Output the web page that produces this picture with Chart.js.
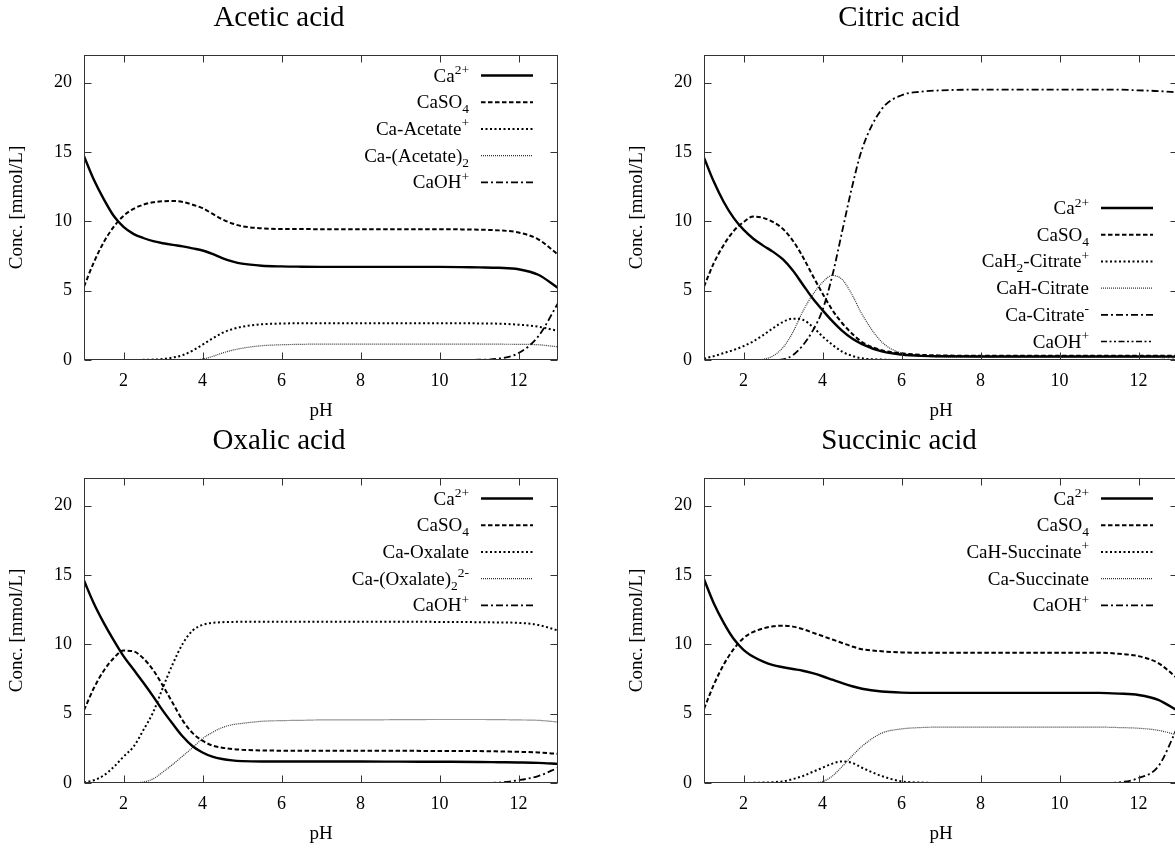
<!DOCTYPE html>
<html>
<head>
<meta charset="utf-8">
<script src="https://cdn.jsdelivr.net/npm/chart.js@4.4.0/dist/chart.umd.min.js"></script>
<style>
  html, body { margin: 0; padding: 0; background: #fff; overflow: hidden; }
  #wrap { position: relative; width: 1175px; height: 849px; overflow: hidden; }
  .panel { position: absolute; width: 592px; height: 423px; }
</style>
</head>
<body>
<div id="wrap">
  <div class="panel" style="left:0;top:0"><canvas id="acetic" width="592" height="423"></canvas></div>
  <div class="panel" style="left:620px;top:0"><canvas id="citric" width="592" height="423"></canvas></div>
  <div class="panel" style="left:0;top:423px"><canvas id="oxalic" width="592" height="423"></canvas></div>
  <div class="panel" style="left:620px;top:423px"><canvas id="succinic" width="592" height="423"></canvas></div>
</div>
<script>
// pH grid shared by all four panels
const ph = [1, 1.25, 1.5, 1.75, 2, 2.25, 2.5, 2.75, 3, 3.25, 3.5, 3.75, 4, 4.25, 4.5, 4.75, 5, 5.5, 6, 6.5, 7, 8, 9, 10, 11, 11.5, 12, 12.5, 13];
const xTicks = [2, 4, 6, 8, 10, 12];
const yTicks = [0, 5, 10, 15, 20];

// Acetic acid
const aceticLabels = ['Ca^{2+}', 'CaSO_{4}', 'Ca-Acetate^{+}', 'Ca-(Acetate)_{2}', 'CaOH^{+}'];
const aceticCa = [14.7, 13.0, 11.6, 10.4, 9.6, 9.1, 8.8, 8.57, 8.42, 8.3, 8.2, 8.05, 7.9, 7.65, 7.35, 7.12, 6.95, 6.8, 6.75, 6.73, 6.72, 6.72, 6.72, 6.72, 6.68, 6.65, 6.55, 6.15, 5.2];
const aceticCaSO4 = [5.3, 7.05, 8.5, 9.6, 10.4, 10.9, 11.2, 11.38, 11.45, 11.47, 11.4, 11.2, 10.95, 10.55, 10.15, 9.85, 9.65, 9.5, 9.45, 9.45, 9.43, 9.43, 9.43, 9.43, 9.4, 9.35, 9.2, 8.7, 7.6];
const aceticAcetate = [0, 0, 0, 0, 0, 0, 0.01, 0.03, 0.07, 0.18, 0.35, 0.68, 1.1, 1.55, 1.95, 2.22, 2.4, 2.58, 2.63, 2.65, 2.65, 2.65, 2.65, 2.65, 2.64, 2.62, 2.55, 2.4, 2.1];
const aceticAcetate2 = [0, 0, 0, 0, 0, 0, 0, 0, 0, 0, 0, 0.02, 0.07, 0.25, 0.5, 0.7, 0.85, 1.03, 1.1, 1.13, 1.15, 1.15, 1.15, 1.15, 1.15, 1.14, 1.13, 1.1, 0.95];
const aceticCaOH = [0, 0, 0, 0, 0, 0, 0, 0, 0, 0, 0, 0, 0, 0, 0, 0, 0, 0, 0, 0, 0, 0, 0, 0, 0.02, 0.1, 0.5, 1.7, 4.1];

// Citric acid
const citricLabels = ['Ca^{2+}', 'CaSO_{4}', 'CaH_{2}-Citrate^{+}', 'CaH-Citrate', 'Ca-Citrate^{-}', 'CaOH^{+}'];
const citricCa = [14.6, 12.85, 11.4, 10.25, 9.4, 8.75, 8.25, 7.8, 7.25, 6.45, 5.45, 4.45, 3.6, 2.8, 2.1, 1.55, 1.15, 0.62, 0.4, 0.3, 0.27, 0.25, 0.25, 0.25, 0.25, 0.25, 0.25, 0.25, 0.24];
const citricCaSO4 = [5.3, 7.0, 8.3, 9.3, 9.95, 10.35, 10.25, 9.95, 9.45, 8.6, 7.45, 6.1, 4.8, 3.6, 2.65, 1.9, 1.3, 0.7, 0.48, 0.37, 0.33, 0.3, 0.3, 0.3, 0.3, 0.3, 0.3, 0.3, 0.3];
const citricCaH2 = [0.1, 0.28, 0.5, 0.72, 1.0, 1.35, 1.8, 2.3, 2.75, 2.98, 2.9, 2.4, 1.7, 1.1, 0.6, 0.3, 0.12, 0.03, 0, 0, 0, 0, 0, 0, 0, 0, 0, 0, 0];
const citricCaH = [0, 0, 0, 0, 0, 0, 0.05, 0.3, 0.9, 2.0, 3.5, 4.7, 5.6, 6.1, 5.8, 4.7, 3.3, 1.3, 0.5, 0.3, 0.22, 0.2, 0.2, 0.2, 0.2, 0.2, 0.2, 0.2, 0.2];
const citricCaCit = [0, 0, 0, 0, 0, 0, 0, 0, 0.05, 0.35, 1.05, 2.1, 3.6, 6.1, 9.3, 12.5, 15.2, 18.1, 19.1, 19.35, 19.45, 19.5, 19.5, 19.5, 19.5, 19.5, 19.45, 19.4, 19.3];
const citricCaOH = [0, 0, 0, 0, 0, 0, 0, 0, 0, 0, 0, 0, 0, 0, 0, 0, 0, 0, 0, 0, 0, 0, 0, 0, 0, 0, 0, 0.02, 0.05];

// Oxalic acid
const oxalicLabels = ['Ca^{2+}', 'CaSO_{4}', 'Ca-Oxalate', 'Ca-(Oxalate)_{2}^{2-}', 'CaOH^{+}'];
const oxalicCa = [14.6, 12.95, 11.55, 10.3, 9.15, 8.2, 7.25, 6.25, 5.2, 4.25, 3.35, 2.65, 2.2, 1.9, 1.73, 1.63, 1.58, 1.55, 1.55, 1.55, 1.55, 1.55, 1.54, 1.53, 1.52, 1.5, 1.48, 1.45, 1.38];
const oxalicCaSO4 = [5.25, 6.85, 8.1, 9.0, 9.55, 9.5, 9.0, 8.15, 7.0, 5.75, 4.5, 3.6, 3.05, 2.7, 2.55, 2.45, 2.4, 2.35, 2.33, 2.32, 2.32, 2.32, 2.32, 2.31, 2.3, 2.28, 2.25, 2.2, 2.1];
const oxalicOx = [0.05, 0.2, 0.55, 1.15, 1.9, 2.6, 3.8, 5.1, 6.9, 8.6, 10.05, 11.0, 11.4, 11.55, 11.6, 11.62, 11.63, 11.63, 11.63, 11.63, 11.63, 11.63, 11.63, 11.62, 11.6, 11.58, 11.55, 11.4, 11.0];
const oxalicOx2 = [0, 0, 0, 0, 0, 0.02, 0.07, 0.3, 0.8, 1.35, 1.95, 2.55, 3.2, 3.65, 4.0, 4.2, 4.3, 4.45, 4.5, 4.52, 4.55, 4.55, 4.57, 4.58, 4.58, 4.57, 4.55, 4.52, 4.4];
const oxalicCaOH = [0, 0, 0, 0, 0, 0, 0, 0, 0, 0, 0, 0, 0, 0, 0, 0, 0, 0, 0, 0, 0, 0, 0, 0, 0, 0.03, 0.2, 0.5, 1.1];

// Succinic acid
const succinicLabels = ['Ca^{2+}', 'CaSO_{4}', 'CaH-Succinate^{+}', 'Ca-Succinate', 'CaOH^{+}'];
const succinicCa = [14.7, 12.95, 11.55, 10.4, 9.6, 9.1, 8.75, 8.5, 8.35, 8.22, 8.1, 7.92, 7.7, 7.45, 7.2, 6.98, 6.8, 6.6, 6.52, 6.5, 6.5, 6.5, 6.5, 6.5, 6.5, 6.45, 6.35, 6.0, 5.2];
const succinicCaSO4 = [5.35, 7.1, 8.55, 9.65, 10.45, 10.9, 11.15, 11.3, 11.35, 11.28, 11.1, 10.85, 10.6, 10.35, 10.1, 9.85, 9.65, 9.5, 9.42, 9.4, 9.4, 9.4, 9.4, 9.4, 9.4, 9.32, 9.15, 8.65, 7.5];
const succinicCaHSucc = [0, 0, 0, 0, 0, 0.01, 0.03, 0.06, 0.12, 0.28, 0.5, 0.8, 1.1, 1.4, 1.56, 1.45, 1.1, 0.5, 0.12, 0.03, 0, 0, 0, 0, 0, 0, 0, 0, 0];
const succinicCaSucc = [0, 0, 0, 0, 0, 0, 0, 0, 0, 0, 0, 0.02, 0.1, 0.5, 1.2, 1.95, 2.65, 3.6, 3.9, 4.0, 4.03, 4.03, 4.03, 4.03, 4.03, 4.0, 3.95, 3.8, 3.45];
const succinicCaOH = [0, 0, 0, 0, 0, 0, 0, 0, 0, 0, 0, 0, 0, 0, 0, 0, 0, 0, 0, 0, 0, 0, 0, 0, 0, 0.05, 0.35, 1.2, 4.1];

const serif = "'Liberation Serif', 'DejaVu Serif', serif";

// gnuplot-like line types
const lineTypes = {
  solid:      { dash: [],                   width: 2.4, color: '#000' },
  dashed:     { dash: [4.5, 2.5],           width: 2,   color: '#000' },
  dotted:     { dash: [2, 2.5],             width: 2,   color: '#000' },
  fine:       { dash: [1, 1],               width: 1.2, color: '#333' },
  dashdot:    { dash: [7, 3, 2, 3],         width: 1.8, color: '#000' },
  dashdotdot: { dash: [6, 2.5, 2, 2.5, 2, 2.5], width: 1.6, color: '#000' }
};

// split 'CaSO_{4}' into plain / sub / sup pieces
function splitLabel(s) {
  const out = [];
  const re = /([\^_])\{([^}]*)\}|[^\^_]+/g;
  let m;
  while ((m = re.exec(s)) !== null) {
    if (m[1]) out.push({ text: m[2], kind: m[1] === '^' ? 'sup' : 'sub' });
    else out.push({ text: m[0], kind: 'base' });
  }
  return out;
}

// box border plus inward tick marks on all four sides
const framePlugin = {
  id: 'frame',
  afterDatasetsDraw(chart) {
    const { ctx, chartArea: a, scales } = chart;
    const L = Math.round(a.left) + 0.5, R = Math.round(a.right) - 0.5;
    const T = Math.round(a.top) + 0.5, B = Math.round(a.bottom) - 0.5;
    ctx.save();
    ctx.strokeStyle = '#333';
    ctx.lineWidth = 1;
    ctx.setLineDash([]);
    ctx.strokeRect(L, T, R - L, B - T);
    ctx.beginPath();
    xTicks.forEach(v => {
      const px = Math.round(scales.x.getPixelForValue(v)) + 0.5;
      ctx.moveTo(px, B); ctx.lineTo(px, B - 7);
      ctx.moveTo(px, T); ctx.lineTo(px, T + 7);
    });
    yTicks.forEach(v => {
      const py = Math.round(scales.y.getPixelForValue(v)) + 0.5;
      ctx.moveTo(L, py); ctx.lineTo(L + 7, py);
      ctx.moveTo(R, py); ctx.lineTo(R - 7, py);
    });
    ctx.stroke();
    ctx.restore();
  }
};

// key drawn inside the plot, text right-justified, sample line to its right
const keyPlugin = {
  id: 'key',
  afterDraw(chart, args, opts) {
    const { ctx, chartArea: a } = chart;
    const rows = opts.labels.length;
    const step = 26.7;
    const firstY = opts.where === 'bottom' ? a.bottom - 19 - step * (rows - 1) : a.top + 20;
    const textRight = a.right - 89;
    ctx.save();
    ctx.fillStyle = '#000';
    ctx.textBaseline = 'alphabetic';
    ctx.textAlign = 'left';
    opts.labels.forEach((lab, i) => {
      const y = firstY + i * step;
      const pieces = splitLabel(lab);
      let w = 0;
      pieces.forEach(p => {
        ctx.font = (p.kind === 'base' ? 19 : 13.5) + 'px ' + serif;
        p.w = ctx.measureText(p.text).width;
        w += p.w;
      });
      let x = textRight - w;
      pieces.forEach(p => {
        ctx.font = (p.kind === 'base' ? 19 : 13.5) + 'px ' + serif;
        const dy = p.kind === 'sup' ? -7.5 : (p.kind === 'sub' ? 5 : 0);
        ctx.fillText(p.text, x, y + 6.5 + dy);
        x += p.w;
      });
      const lt = lineTypes[opts.types[i]];
      ctx.beginPath();
      ctx.strokeStyle = lt.color;
      ctx.lineWidth = lt.width;
      ctx.setLineDash(lt.dash);
      ctx.moveTo(a.right - 77, y + 0.5);
      ctx.lineTo(a.right - 25, y + 0.5);
      ctx.stroke();
    });
    ctx.restore();
  }
};

function makeChart(id, title, labels, series, types, where) {
  const datasets = series.map((vals, i) => {
    const lt = lineTypes[types[i]];
    return {
      label: labels[i],
      data: ph.map((x, j) => ({ x: x, y: vals[j] })),
      borderColor: lt.color,
      borderWidth: lt.width,
      borderDash: lt.dash,
      pointRadius: 0,
      fill: false,
      cubicInterpolationMode: 'monotone'
    };
  });
  return new Chart(document.getElementById(id), {
    type: 'line',
    data: { datasets: datasets },
    options: {
      responsive: false,
      animation: false,
      events: [],
      layout: { padding: { top: 0, right: 34, bottom: 0, left: 0 } },
      plugins: {
        legend: { display: false },
        tooltip: { enabled: false },
        title: {
          display: true,
          text: title,
          color: '#000',
          font: { family: serif, size: 29, weight: 'normal', lineHeight: 1.2 },
          padding: { top: 1, bottom: 19.2 }
        },
        key: { labels: labels, types: types, where: where }
      },
      scales: {
        x: {
          type: 'linear',
          min: 1,
          max: 13,
          afterBuildTicks: s => { s.ticks = xTicks.map(v => ({ value: v })); },
          afterFit: s => { s.height = 63; },
          grid: { display: false, drawTicks: false },
          border: { display: false },
          ticks: { padding: 10, color: '#000', maxRotation: 0, autoSkip: false,
                   font: { family: serif, size: 18 }, callback: v => String(v) },
          title: { display: true, text: 'pH', color: '#000',
                   font: { family: serif, size: 19 }, padding: { top: 0, bottom: 0.6 } }
        },
        y: {
          type: 'linear',
          min: 0,
          max: 22,
          afterBuildTicks: s => { s.ticks = yTicks.map(v => ({ value: v })); },
          afterFit: s => { s.width = 84; },
          grid: { display: false, drawTicks: false },
          border: { display: false },
          ticks: { padding: 12, color: '#000', font: { family: serif, size: 18 }, callback: v => String(v) },
          title: { display: true, text: 'Conc. [mmol/L]', color: '#000',
                   font: { family: serif, size: 19 }, padding: { top: 6, bottom: 0 } }
        }
      }
    },
    plugins: [framePlugin, keyPlugin]
  });
}

makeChart('acetic', 'Acetic acid', aceticLabels,
  [aceticCa, aceticCaSO4, aceticAcetate, aceticAcetate2, aceticCaOH],
  ['solid', 'dashed', 'dotted', 'fine', 'dashdot'], 'top');

makeChart('citric', 'Citric acid', citricLabels,
  [citricCa, citricCaSO4, citricCaH2, citricCaH, citricCaCit, citricCaOH],
  ['solid', 'dashed', 'dotted', 'fine', 'dashdot', 'dashdotdot'], 'bottom');

makeChart('oxalic', 'Oxalic acid', oxalicLabels,
  [oxalicCa, oxalicCaSO4, oxalicOx, oxalicOx2, oxalicCaOH],
  ['solid', 'dashed', 'dotted', 'fine', 'dashdot'], 'top');

makeChart('succinic', 'Succinic acid', succinicLabels,
  [succinicCa, succinicCaSO4, succinicCaHSucc, succinicCaSucc, succinicCaOH],
  ['solid', 'dashed', 'dotted', 'fine', 'dashdot'], 'top');
</script>
</body>
</html>
